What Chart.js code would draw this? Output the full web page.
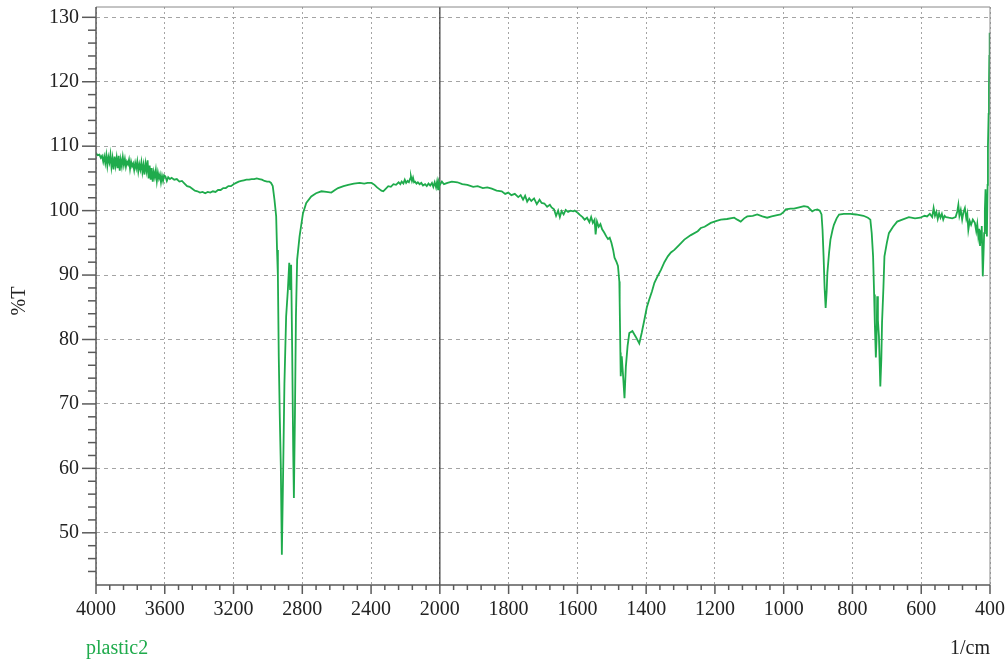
<!DOCTYPE html>
<html>
<head>
<meta charset="utf-8">
<script src="https://cdn.jsdelivr.net/npm/chart.js@4/dist/chart.umd.min.js"></script>
<style>
  html, body { margin: 0; padding: 0; background: #fff; }
  #wrap { width: 1007px; height: 661px; position: relative; }
</style>
</head>
<body>
<div id="wrap"><canvas id="spectrum"></canvas></div>
<script>
// wavenumber (1/cm) and %T
const wavenumber = [
  4000, 3990, 3980, 3972, 3965, 3958, 3952, 3946, 3940, 3934, 3928, 3922, 3916, 3910, 3904, 3898,
  3892, 3886, 3880, 3874, 3868, 3862, 3856, 3850, 3844, 3838, 3832, 3826, 3820, 3814, 3808, 3802,
  3796, 3790, 3784, 3778, 3772, 3766, 3760, 3754, 3748, 3742, 3736, 3730, 3724, 3718, 3712, 3706,
  3700, 3694, 3688, 3682, 3676, 3670, 3664, 3658, 3652, 3646, 3640, 3634, 3628, 3622, 3616, 3610,
  3604, 3596, 3588, 3580, 3570, 3560, 3545, 3530, 3515, 3500, 3485, 3470, 3455, 3440, 3425, 3410,
  3395, 3380, 3365, 3350, 3335, 3320, 3305, 3290, 3275, 3260, 3245, 3230, 3215, 3200, 3185, 3170,
  3155, 3140, 3125, 3110, 3095, 3080, 3065, 3050, 3035, 3020, 3005, 2992, 2982, 2972, 2962, 2952,
  2947, 2942, 2937, 2931, 2925, 2919, 2911, 2904, 2894, 2884, 2876, 2871, 2865, 2859, 2853, 2849,
  2843, 2837, 2830, 2816, 2796, 2777, 2748, 2720, 2689, 2660, 2631, 2610, 2592, 2560, 2533, 2500,
  2466, 2440, 2420, 2397, 2380, 2365, 2350, 2340, 2329, 2318, 2300, 2285, 2270, 2255, 2240, 2230,
  2222, 2212, 2204, 2196, 2188, 2180, 2172, 2168, 2162, 2156, 2150, 2144, 2136, 2128, 2118, 2108,
  2098, 2086, 2076, 2066, 2056, 2046, 2038, 2030, 2022, 2016, 2010, 2005, 2000, 1994, 1988, 1978,
  1965, 1949, 1935, 1920, 1903, 1890, 1875, 1862, 1849, 1835, 1820, 1810, 1801, 1792, 1782, 1772,
  1765, 1758, 1752, 1746, 1740, 1734, 1726, 1718, 1710, 1704, 1696, 1688, 1680, 1675, 1668, 1662,
  1656, 1651, 1646, 1640, 1634, 1627, 1620, 1612, 1608, 1600, 1592, 1585, 1579, 1572, 1565, 1560,
  1555, 1550, 1547, 1543, 1538, 1533, 1528, 1522, 1516, 1511, 1506, 1501, 1496, 1492, 1486, 1482,
  1478, 1477, 1475, 1474, 1471, 1467, 1463, 1459, 1454, 1449, 1440, 1430, 1420, 1413, 1405, 1398,
  1391, 1383, 1376, 1366, 1357, 1347, 1337, 1328, 1318, 1305, 1289, 1270, 1250, 1241, 1230, 1212,
  1195, 1183, 1165, 1144, 1135, 1125, 1115, 1106, 1090, 1077, 1062, 1048, 1035, 1019, 1009, 1000,
  994, 980, 970, 955, 941, 930, 917, 910, 902, 895, 890, 887, 884, 881, 878, 875,
  873, 868, 864, 858, 854, 846, 839, 825, 806, 790, 768, 755, 748, 744, 740, 737,
  735, 732, 730, 728, 726, 723, 719, 716, 714, 710, 707, 700, 694, 682, 670, 655,
  636, 618, 603, 590, 583, 575, 568, 564, 560, 556, 552, 548, 544, 540, 536, 532,
  528, 520, 510, 500, 495, 492, 489, 485, 481, 477, 473, 469, 466, 463, 459, 455,
  450, 444, 440, 437, 434, 431, 429, 426, 424, 421, 419, 417, 415, 413, 411, 409,
  407, 406, 404, 403, 402, 401, 400
];
const transmittance = [
  108.9, 108.6, 108.7, 108.2, 108.5, 107.6, 108.4, 107.4, 108.6, 107.0, 108.3, 107.5, 108.7, 106.8, 108.1, 106.4,
  108.4, 107.0, 108.2, 106.6, 108.5, 106.2, 107.9, 106.9, 108.3, 107.1, 108.0, 106.8, 107.6, 107.2, 107.9, 106.5,
  107.6, 106.9, 107.3, 106.3, 107.4, 106.6, 107.6, 106.1, 107.2, 106.4, 107.5, 106.0, 107.1, 105.6, 107.3, 106.2,
  107.8, 105.0, 107.0, 104.8, 106.6, 104.5, 106.0, 105.2, 106.3, 104.6, 105.9, 105.0, 105.6, 104.4, 105.4, 104.6,
  105.5, 105.3, 104.6, 105.2, 104.9, 105.1, 104.8, 104.9, 104.5, 104.6, 104.2, 103.8, 103.7, 103.4, 103.1, 103.0,
  102.8, 102.9, 102.7, 102.9, 102.8, 103.0, 102.9, 103.2, 103.2, 103.5, 103.5, 103.8, 103.8, 104.1, 104.3, 104.5,
  104.6, 104.7, 104.8, 104.8, 104.9, 104.9, 105.0, 104.9, 104.8, 104.6, 104.5, 104.5, 104.3, 103.8, 101.7, 99.1,
  93.9, 89.8, 77.4, 68.0, 60.3, 46.6, 60.3, 73.2, 83.6, 87.7, 91.9, 87.7, 91.6, 78.4, 62.9, 55.4,
  68.0, 83.6, 92.4, 96.0, 99.6, 101.2, 102.2, 102.7, 103.0, 102.9, 102.8, 103.2, 103.5, 103.8, 104.0, 104.2,
  104.3, 104.2, 104.3, 104.3, 104.0, 103.6, 103.3, 103.1, 103.0, 103.3, 103.8, 103.7, 104.1, 104.0, 104.4, 104.1,
  104.5, 104.2, 104.8, 104.3, 104.6, 104.4, 105.0, 105.3, 104.6, 105.1, 104.4, 104.5, 104.2, 104.4, 104.1, 104.3,
  103.9, 104.1, 103.8, 104.2, 103.9, 104.3, 103.7, 104.4, 103.6, 104.5, 103.3, 104.4, 104.0, 104.5, 104.1, 104.3,
  104.5, 104.4, 104.1, 104.0, 103.7, 103.8, 103.5, 103.6, 103.4, 103.1, 103.0, 102.6, 102.8, 102.4, 102.6, 102.1,
  102.4, 101.7, 102.3, 101.4, 101.9, 101.5, 101.9, 101.0, 101.7, 101.2, 101.1, 100.6, 100.9, 100.5, 100.2, 99.2,
  100.0, 99.0, 99.9, 99.4, 100.1, 99.8, 100.0, 99.9, 100.0, 99.7, 99.3, 99.0, 98.6, 98.9, 98.2, 99.0,
  98.1, 98.6, 96.3, 98.3, 97.5, 97.9, 97.1, 96.6, 96.0, 95.6, 95.8, 95.0, 93.9, 92.7, 92.0, 91.4,
  89.0, 85.7, 78.0, 74.3, 77.4, 74.3, 70.9, 75.8, 79.0, 81.0, 81.3, 80.4, 79.4, 81.0, 83.1, 85.0,
  86.2, 87.5, 88.8, 89.9, 90.8, 92.0, 92.9, 93.5, 93.9, 94.6, 95.5, 96.2, 96.8, 97.3, 97.5, 98.1,
  98.4, 98.6, 98.7, 98.9, 98.6, 98.3, 98.8, 99.1, 99.2, 99.4, 99.1, 98.9, 99.1, 99.3, 99.4, 99.8,
  100.2, 100.3, 100.3, 100.5, 100.7, 100.6, 99.9, 100.1, 100.2, 100.0, 99.4, 97.0, 92.9, 88.0, 84.9, 87.5,
  90.3, 93.5, 95.5, 97.0, 97.8, 98.8, 99.4, 99.5, 99.5, 99.4, 99.2, 98.9, 98.6, 96.5, 92.9, 87.0,
  82.6, 77.2, 80.0, 86.7, 83.0, 80.5, 72.7, 77.0, 82.6, 88.0, 92.9, 95.0, 96.5, 97.5, 98.3, 98.6,
  99.0, 98.8, 98.9, 99.2, 99.1, 99.5, 99.0, 100.4, 99.2, 99.8, 98.7, 99.6, 98.9, 99.5, 98.6, 99.2,
  99.0, 98.9, 98.8, 99.0, 99.9, 100.9, 99.2, 100.1, 98.6, 99.8, 100.4, 98.8, 99.5, 97.0, 98.4, 97.8,
  98.6, 98.1, 96.8, 97.9, 96.0, 97.2, 94.5, 96.8, 97.6, 89.8, 93.0, 96.5, 100.0, 103.3, 99.0, 96.0,
  104.0, 110.0, 115.0, 119.3, 124.0, 127.6, 120.0
];

const xMajorTicks = [4000, 3600, 3200, 2800, 2400, 2000, 1800, 1600, 1400, 1200, 1000, 800, 600, 400];
const yMajorTicks = [50, 60, 70, 80, 90, 100, 110, 120, 130];

const lineGreen = '#1fab4c';
const axisGrey = '#5a5a5a';
const textColor = '#222';
const serif = "'Liberation Serif', 'DejaVu Serif', serif";

// the instrument plots 4000-2000 at half the scale of 2000-400
function wnToDecimal(wn) {
  const pos = wn >= 2000 ? (4000 - wn) / 2 : 1000 + (2000 - wn);
  return pos / 2600;
}

class IrScale extends Chart.LinearScale {
  static id = 'irscale';
  static defaults = Chart.LinearScale.defaults;
  buildTicks() {
    return xMajorTicks.map(v => ({ value: v }));
  }
  getPixelForValue(value) {
    return this.getPixelForDecimal(wnToDecimal(value));
  }
  getValueForPixel(pixel) {
    const p = this.getDecimalForPixel(pixel) * 2600;
    return p <= 1000 ? 4000 - 2 * p : 2000 - (p - 1000);
  }
}
Chart.register(IrScale);

function seg(ctx, x1, y1, x2, y2) {
  ctx.beginPath();
  ctx.moveTo(x1, y1);
  ctx.lineTo(x2, y2);
  ctx.stroke();
}

const irFrame = {
  id: 'irFrame',
  beforeDatasetsDraw(chart) {
    const { ctx, chartArea: a, scales: { x } } = chart;
    const px = x.getPixelForValue(2000);
    ctx.save();
    ctx.strokeStyle = '#444';
    ctx.lineWidth = 1.3;
    seg(ctx, px, a.top, px, a.bottom);
    ctx.restore();
  },
  afterDraw(chart) {
    const { ctx, chartArea: a, scales: { x, y } } = chart;
    ctx.save();
    // frame
    ctx.strokeStyle = '#888';
    ctx.lineWidth = 1;
    seg(ctx, a.left, a.top, a.right, a.top);
    seg(ctx, a.right, a.top, a.right, a.bottom);
    ctx.strokeStyle = axisGrey;
    ctx.lineWidth = 1.5;
    seg(ctx, a.left, a.top, a.left, a.bottom);
    seg(ctx, a.left, a.bottom, a.right, a.bottom);

    // x ticks
    xMajorTicks.forEach(v => {
      const px = x.getPixelForValue(v);
      seg(ctx, px, a.bottom, px, a.bottom + 9);
    });
    for (let v = 3920; v > 2000; v -= 80) {
      if (v % 400 === 0) continue;
      const px = x.getPixelForValue(v);
      seg(ctx, px, a.bottom, px, a.bottom + 5);
    }
    for (let v = 1960; v > 400; v -= 40) {
      if (v % 200 === 0) continue;
      const px = x.getPixelForValue(v);
      seg(ctx, px, a.bottom, px, a.bottom + 5);
    }

    // y ticks
    yMajorTicks.forEach(v => {
      const py = y.getPixelForValue(v);
      seg(ctx, a.left - 14, py, a.left, py);
    });
    for (let v = 44; v < 130; v += 2) {
      if (v % 10 === 0) continue;
      const py = y.getPixelForValue(v);
      seg(ctx, a.left - 8, py, a.left, py);
    }

    // captions
    ctx.font = '20px ' + serif;
    ctx.textBaseline = 'alphabetic';
    ctx.fillStyle = lineGreen;
    ctx.textAlign = 'left';
    ctx.fillText('plastic2', 86, 654);
    ctx.fillStyle = textColor;
    ctx.textAlign = 'right';
    ctx.fillText('1/cm', a.right, 654);

    ctx.translate(20, 301);
    ctx.rotate(-Math.PI / 2);
    ctx.textAlign = 'center';
    ctx.textBaseline = 'middle';
    ctx.fillText('%T', 0, 0);
    ctx.restore();
  }
};

Chart.defaults.font.family = serif;
Chart.defaults.font.size = 20;
Chart.defaults.color = textColor;

new Chart(document.getElementById('spectrum'), {
  type: 'line',
  data: {
    datasets: [{
      label: 'plastic2',
      data: wavenumber.map((w, i) => ({ x: w, y: transmittance[i] })),
      borderColor: lineGreen,
      borderWidth: 1.8,
      pointRadius: 0,
      tension: 0,
      fill: false
    }]
  },
  options: {
    responsive: true,
    maintainAspectRatio: false,
    animation: false,
    events: [],
    layout: { padding: { left: 0, top: 7, right: 17, bottom: 0 } },
    plugins: {
      legend: { display: false },
      tooltip: { enabled: false }
    },
    scales: {
      x: {
        type: 'irscale',
        min: 400,
        max: 4000,
        grid: { color: '#a4a4a4', lineWidth: 1, drawTicks: false },
        border: { display: false, dash: [2, 3] },
        ticks: {
          autoSkip: false,
          maxRotation: 0,
          padding: 13,
          color: textColor,
          callback: v => String(v)
        },
        afterFit(s) {
          s.height = 76;
          s.paddingLeft = 0;
          s.paddingRight = 0;
        }
      },
      y: {
        type: 'linear',
        min: 41.9,
        max: 131.6,
        afterBuildTicks(s) {
          s.ticks = yMajorTicks.map(v => ({ value: v }));
        },
        grid: { color: '#a4a4a4', lineWidth: 1, drawTicks: false },
        border: { display: false, dash: [4, 4] },
        ticks: { padding: 17, color: textColor },
        afterFit(s) {
          s.width = 96;
          s.paddingTop = 0;
          s.paddingBottom = 0;
        }
      }
    }
  },
  plugins: [irFrame]
});
</script>
</body>
</html>
